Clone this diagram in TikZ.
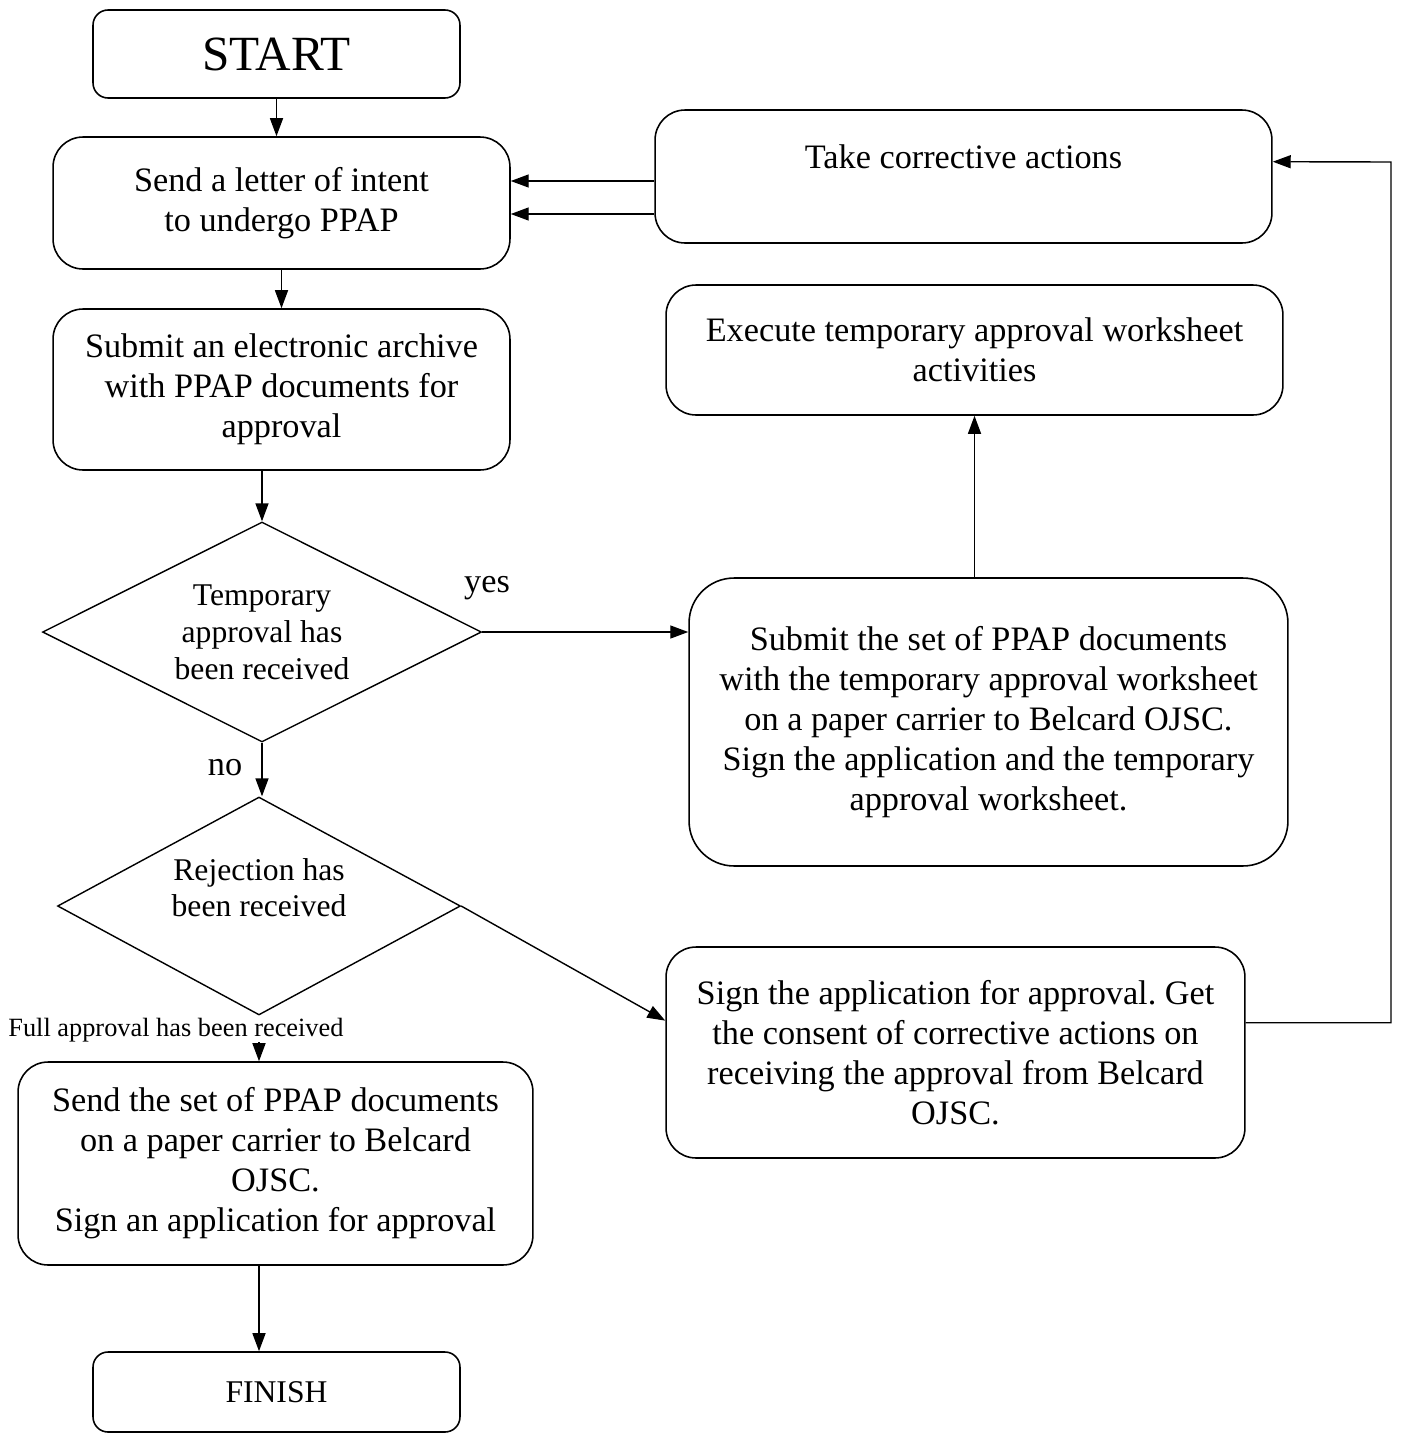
\documentclass[tikz,border=0pt]{standalone}
\usepackage{fontspec}
\setmainfont{Liberation Serif}
\frenchspacing
\usetikzlibrary{shapes.geometric}
\usetikzlibrary{arrows.meta}
\usetikzlibrary{calc}

\begin{document}
\begin{tikzpicture}[
    x=0.02cm, y=-0.02cm,
    box/.style={draw, line width=0.9pt, rounded corners=0.6cm, align=center, inner sep=0pt,
        font=\fontsize{19.5}{22.8}\selectfont},
    decision/.style={draw, diamond, line width=0.8pt, align=center, inner sep=0pt,
        font=\fontsize{18}{21}\selectfont},
    arrow/.style={-{Triangle[length=0.36cm, width=0.26cm]}, line width=0.8pt},
    note/.style={inner sep=0pt, font=\fontsize{19.5}{22.8}\selectfont}
]
    \useasboundingbox (0,0) rectangle (1403,1434);

    % Left column
    \node[box, rounded corners=0.3cm, minimum width=7.34cm, minimum height=1.76cm,
        font=\fontsize{28}{32}\selectfont] (start) at (276.5,54) {START};

    \node[box, minimum width=9.14cm, minimum height=2.64cm] (letter) at (281.5,203)
        {Send a letter of intent\\to undergo PPAP};

    \node[box, minimum width=9.14cm, minimum height=3.22cm] (archive) at (281.5,389.5)
        {Submit an electronic archive\\with PPAP documents for\\approval};

    \node[decision, aspect=2, minimum width=8.78cm, minimum height=4.4cm] (temp) at (262,632)
        {Temporary\\approval has\\been received};

    \node[decision, aspect=1.85, minimum width=8.06cm, minimum height=4.36cm] (reject) at (259,906)
        {Rejection has\\been received\\\mbox{}};

    \node[note, anchor=west, font=\fontsize{15}{18}\selectfont] (full) at (8,1030)
        {Full approval has been received};

    \node[box, minimum width=10.3cm, minimum height=4.06cm] (sendset) at (275.5,1163.5)
        {Send the set of PPAP documents\\on a paper carrier to Belcard\\OJSC.\\Sign an application for approval};

    \node[box, rounded corners=0.3cm, minimum width=7.34cm, minimum height=1.6cm,
        font=\fontsize{18}{21}\selectfont] (finish) at (276.5,1392) {FINISH};

    % Right column
    \node[box, minimum width=12.34cm, minimum height=2.66cm] (take) at (963.5,176.5)
        {Take corrective actions\\\mbox{}};

    \node[box, minimum width=12.34cm, minimum height=2.6cm] (exec) at (974.5,350)
        {Execute temporary approval worksheet\\activities};

    \node[box, rounded corners=0.9cm, minimum width=11.98cm, minimum height=5.76cm] (subset) at (988.5,722)
        {Submit the set of PPAP documents\\with the temporary approval worksheet\\on a paper carrier to Belcard OJSC.\\Sign the application and the temporary\\approval worksheet.};

    \node[box, minimum width=11.58cm, minimum height=4.22cm] (sign) at (955.5,1052.5)
        {Sign the application for approval. Get\\the consent of corrective actions on\\receiving the approval from Belcard\\OJSC.};

    % Connectors
    \draw[arrow] (start.south) -- (start.south |- letter.north);
    \draw[arrow] (letter.south) -- (archive.north);
    \draw[arrow] (archive.south -| temp.north) -- (temp.north);
    \draw[arrow] (temp.south) -- (temp.south |- reject.north);
    \node[note] (no) at (225,768) {no};

    \draw[arrow] (temp.east) -- (temp.east -| subset.west);
    \node[note] (yes) at (487,588) {yes};
    \draw[arrow] (exec.south |- subset.north) -- (exec.south);

    \coordinate (signin) at ($(sign.north west)!0.35!(sign.south west)$);
    \draw[arrow] (reject.east) -- (signin);

    \draw[arrow] (reject.south |- full.south) -- (reject.south |- sendset.north);
    \draw[arrow] (reject.south |- sendset.south) -- (reject.south |- finish.north);

    \coordinate (signout) at ($(sign.north east)!0.36!(sign.south east)$);
    \coordinate (takein) at ($(take.north east)!0.39!(take.south east)$);
    \coordinate (loop) at (1391,162);
    \draw[arrow] (signout) -| (loop) -- (takein);

    \coordinate (t1) at ($(take.west)+(0,4.5)$);
    \coordinate (t2) at ($(take.west)+(0,37.5)$);
    \draw[arrow] (t1) -- (t1 -| letter.east);
    \draw[arrow] (t2) -- (t2 -| letter.east);
\end{tikzpicture}
\end{document}
